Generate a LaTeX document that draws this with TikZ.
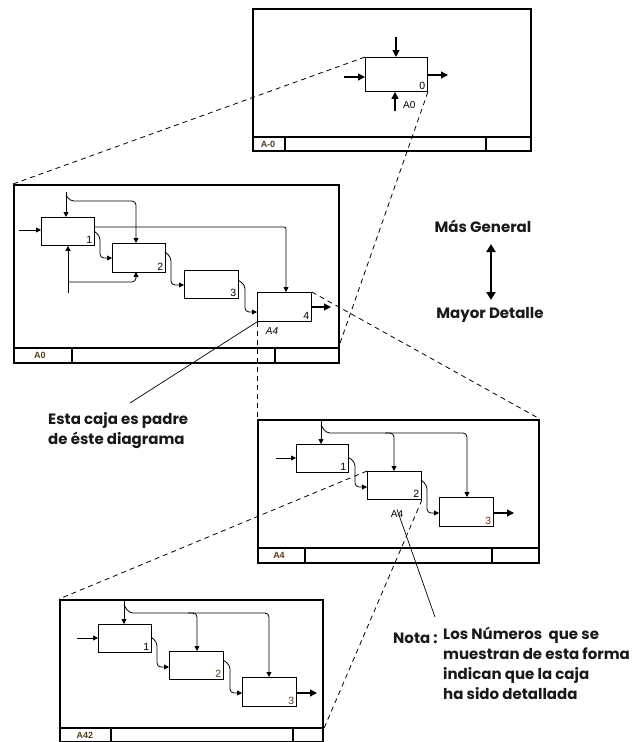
\documentclass[tikz,border=0pt]{standalone}
\usepackage{fontspec}
\setmainfont{Liberation Sans}
\newfontfamily\notefont{Poppins}
\usetikzlibrary{arrows.meta}
\definecolor{tagc}{RGB}{85,60,25}
\begin{document}
\begin{tikzpicture}[x=1pt,y=-1pt,
  frame/.style={draw, line width=2pt, inner sep=0pt, anchor=north west},
  barline/.style={line width=2pt},
  box/.style={draw, line width=0.9pt, inner sep=0pt, anchor=north west},
  num/.style={anchor=south east, inner sep=2.5pt, font=\fontsize{10.5}{12}\selectfont},
  ref/.style={inner sep=1pt, font=\fontsize{10}{11}\selectfont\itshape},
  tag/.style={inner sep=0pt, text=tagc, font=\fontsize{9}{10}\selectfont\bfseries},
  arr/.style={line width=0.8pt, -{Triangle[length=5pt,width=5pt]}},
  flow/.style={arr, rounded corners=4pt},
  bigarr/.style={line width=1.1pt, -{Triangle[length=7pt,width=7pt]}},
  dashline/.style={line width=0.8pt, dash pattern=on 5pt off 4pt},
  pointer/.style={line width=0.7pt},
  note/.style={inner sep=0pt, font=\notefont\bfseries\fontsize{15}{20}\selectfont, text=black!90}
]
\useasboundingbox (0,0) rectangle (633,742);
\fill[white] (0,0) rectangle (633,742);

% ---------------- Frame 1 (A-0)
\node[frame, minimum width=278, minimum height=142] (F1) at (252,8) {};
\draw[barline] (252,137) -- (530,137);
\draw[barline] (285,137) -- (285,150);
\draw[barline] (486,137) -- (486,150);
\node[tag] (t1) at (268,144) {A-0};
\node[box, minimum width=62, minimum height=34] (b0) at (365,57) {};
\node[num] (n0) at (b0.south east) {0};
\coordinate (b0in) at (344,77);
\draw[bigarr] (b0in) -- (b0in -| b0.west);
\coordinate (b0ct) at (396,37);
\draw[bigarr] (b0ct) -- (b0ct |- b0.north);
\coordinate (b0me) at (395,111);
\draw[bigarr] (b0me) -- (b0me |- b0.south);
\coordinate (b0out) at (448,75);
\draw[bigarr] (b0out -| b0.east) -- (b0out);
\node[ref, anchor=west, font=\fontsize{10}{11}\selectfont] (r0) at (402,105) {A0};

% ---------------- Frame 2 (A0)
\node[frame, minimum width=325, minimum height=178] (F2) at (13,184) {};
\draw[barline] (13,348) -- (338,348);
\draw[barline] (72,348) -- (72,362);
\draw[barline] (275,348) -- (275,362);
\node[tag] (t2) at (40,355) {A0};
\node[box, minimum width=53, minimum height=28] (b21) at (41,217) {};
\node[box, minimum width=53, minimum height=29] (b22) at (112,243) {};
\node[box, minimum width=54, minimum height=28] (b23) at (184,270) {};
\node[box, minimum width=54, minimum height=29] (b24) at (257,292) {};
\node[num] (n21) at (b21.south east) {1};
\node[num] (n22) at (b22.south east) {2};
\node[num] (n23) at (b23.south east) {3};
\node[num] (n24) at (b24.south east) {4};
\node[ref] (r24) at (272,331) {A4};
\coordinate (f2in) at (19,230);
\draw[arr] (f2in) -- (f2in -| b21.west);
\coordinate (f2ct) at (66,192);
\draw[arr] (f2ct) -- (f2ct |- b21.north);
\draw[flow] (66,195) -- (70,201) -- (136,201) -- (136,243);
\draw[arr, rounded corners=2pt] (94,227) -- (286,227) -- (286,292);
\draw[flow] (94,231) -- (100,236) -- (100,258) -- (112,258);
\draw[flow] (165,252) -- (171,257) -- (171,285) -- (184,285);
\draw[flow] (238,280) -- (245,285) -- (245,312) -- (257,312);
\coordinate (f2out) at (331,307);
\draw[bigarr] (f2out -| b24.east) -- (f2out);
\coordinate (f2me) at (68,293);
\draw[arr] (f2me) -- (f2me |- b21.south);
\draw[flow] (68,282) -- (136,282) -- (136,272);
\coordinate (F2barE) at (338,349);

% ---------------- Frame 3 (A4)
\node[frame, minimum width=281, minimum height=143] (F3) at (257,419) {};
\draw[barline] (257,548) -- (538,548);
\draw[barline] (305,548) -- (305,562);
\draw[barline] (492,548) -- (492,562);
\node[tag] (t3) at (279,555) {A4};
\node[box, minimum width=52, minimum height=28] (b31) at (296,444) {};
\node[box, minimum width=54, minimum height=28] (b32) at (367,471) {};
\node[box, minimum width=54, minimum height=29] (b33) at (439,497) {};
\node[num] (n31) at (b31.south east) {1};
\node[num] (n32) at (b32.south east) {2};
\node[num, text=tagc!70!red] (n33) at (b33.south east) {3};
\node[ref, font=\fontsize{10}{11}\selectfont] (r32) at (397,514) {A4};
\coordinate (f3in) at (276,458);
\draw[arr] (f3in) -- (f3in -| b31.west);
\coordinate (f3ct) at (321,420);
\draw[arr] (f3ct) -- (f3ct |- b31.north);
\draw[flow] (321,425) -- (326,433) -- (467,433) -- (467,497);
\draw[flow] (385,433) -- (394,433) -- (394,471);
\draw[flow] (348,457) -- (355,462) -- (355,487) -- (367,487);
\draw[flow] (421,480) -- (427,485) -- (427,513) -- (439,513);
\coordinate (f3out) at (514,513);
\draw[bigarr] (f3out -| b33.east) -- (f3out);

% ---------------- Frame 4 (A42)
\node[frame, minimum width=263, minimum height=142] (F4) at (59,599) {};
\draw[barline] (59,728) -- (322,728);
\draw[barline] (111,728) -- (111,741);
\draw[barline] (293,728) -- (293,741);
\node[tag] (t4) at (85,735) {A42};
\node[box, minimum width=53, minimum height=28] (b41) at (98,624) {};
\node[box, minimum width=54, minimum height=28] (b42) at (169,651) {};
\node[box, minimum width=54, minimum height=29] (b43) at (242,677) {};
\node[num] (n41) at (b41.south east) {1};
\node[num, text=tagc] (n42) at (b42.south east) {2};
\node[num, text=tagc] (n43) at (b43.south east) {3};
\coordinate (f4in) at (77,638);
\draw[arr] (f4in) -- (f4in -| b41.west);
\coordinate (f4ct) at (124,600);
\draw[arr] (f4ct) -- (f4ct |- b41.north);
\draw[flow] (124,605) -- (129,613) -- (269,613) -- (269,677);
\draw[flow] (188,613) -- (197,613) -- (197,651);
\draw[flow] (151,637) -- (157,642) -- (157,667) -- (169,667);
\draw[flow] (223,660) -- (230,665) -- (230,693) -- (242,693);
\coordinate (f4out) at (317,693);
\draw[bigarr] (f4out -| b43.east) -- (f4out);
\coordinate (F4barE) at (322,733);

% ---------------- dashed links between levels
\draw[dashline] (b0.north west) -- (F2.north west);
\draw[dashline] (b0.south east) -- (F2barE);
\draw[dashline] (b24.north east) -- (F3.north east);
\draw[dashline] (b24.south west) -- (F3.north west);
\draw[dashline] (b32.north west) -- (F4.north west);
\draw[dashline] (b32.south east) -- (F4barE);

% ---------------- legend
\node[note] (gen) at (483,226) {Más General};
\node[note] (det) at (490,315) {Mayor Detalle};
\draw[line width=2.2pt, {Triangle[length=8pt,width=9pt]}-{Triangle[length=8pt,width=9pt]}] (491,244) -- (491,300);

\node[note, anchor=north west, align=left] (esta) at (48,412) {Esta caja es padre\\de éste diagrama};
\coordinate (estaP) at (130,403);
\draw[pointer] (estaP) -- (b24.south west);

\node[note, anchor=west] (nota) at (393,638) {Nota :};
\node[note, anchor=north west, align=left] (notatx) at (443,627) {Los Números\ \ que se\\muestran de esta forma\\indican que la caja\\ha sido detallada};
\coordinate (notaP) at (435,617);
\draw[pointer] (notaP) -- (r32.north);
\end{tikzpicture}
\end{document}
